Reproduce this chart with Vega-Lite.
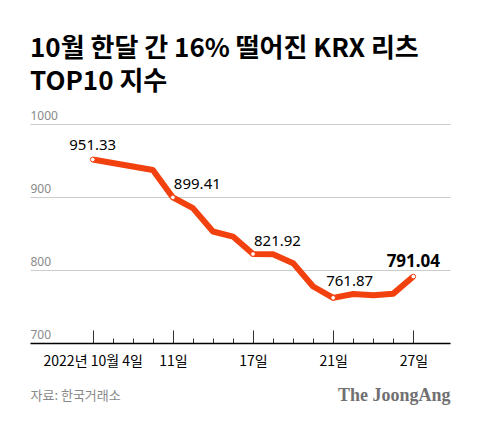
{
  "$schema": "https://vega.github.io/schema/vega-lite/v6.json",
  "autosize": "none",
  "width": 420,
  "height": 219,
  "padding": {"left": 30, "top": 124, "right": 30, "bottom": 79},
  "background": "white",
  "title": {
    "text": ["10월 한달 간 16% 떨어진 KRX 리츠", "TOP10 지수"],
    "anchor": "start",
    "frame": "group",
    "font": "Noto Sans CJK KR",
    "fontSize": 26,
    "fontWeight": "bold",
    "color": "#000000",
    "lineHeight": 33,
    "offset": 14
  },
  "data": {
    "values": [
      {"date": "2022-10-04", "session": 1, "value": 951.33, "label": "951.33"},
      {"date": "2022-10-05", "session": 2, "value": 946.5},
      {"date": "2022-10-06", "session": 3, "value": 941.8},
      {"date": "2022-10-07", "session": 4, "value": 937.0},
      {"date": "2022-10-11", "session": 5, "value": 899.41, "label": "899.41"},
      {"date": "2022-10-12", "session": 6, "value": 884.7},
      {"date": "2022-10-13", "session": 7, "value": 852.7},
      {"date": "2022-10-14", "session": 8, "value": 845.8},
      {"date": "2022-10-17", "session": 9, "value": 821.92, "label": "821.92"},
      {"date": "2022-10-18", "session": 10, "value": 821.5},
      {"date": "2022-10-19", "session": 11, "value": 809.4},
      {"date": "2022-10-20", "session": 12, "value": 777.4},
      {"date": "2022-10-21", "session": 13, "value": 761.87, "label": "761.87"},
      {"date": "2022-10-24", "session": 14, "value": 767.2},
      {"date": "2022-10-25", "session": 15, "value": 765.3},
      {"date": "2022-10-26", "session": 16, "value": 767.6},
      {"date": "2022-10-27", "session": 17, "value": 791.04, "label": "791.04"}
    ]
  },
  "encoding": {
    "x": {
      "field": "session",
      "type": "quantitative",
      "scale": {"domain": [-2.13, 18.83], "nice": false, "zero": false},
      "axis": {
        "values": [1, 2, 3, 4, 5, 6, 7, 8, 9, 10, 11, 12, 13, 14, 15, 16, 17],
        "labelExpr": "datum.value == 1 ? '2022년 10월 4일' : datum.value == 5 ? '11일' : datum.value == 9 ? '17일' : datum.value == 13 ? '21일' : datum.value == 17 ? '27일' : ''",
        "grid": false,
        "domainColor": "#000000",
        "domainWidth": 1.3,
        "tickColor": "#333333",
        "tickWidth": 1,
        "tickSize": {"condition": {"test": "datum.value % 4 == 1", "value": -13}, "value": -5},
        "labelPadding": 24,
        "labelFont": "Noto Sans CJK KR",
        "labelFontSize": 14,
        "labelColor": "#000000",
        "labelOverlap": false,
        "labelFlush": false,
        "title": "자료: 한국거래소",
        "titleX": 0,
        "titleY": 52,
        "titleAlign": "left",
        "titleAnchor": "start",
        "titleBaseline": "middle",
        "titleFont": "Noto Sans CJK KR",
        "titleFontSize": 13,
        "titleFontWeight": "normal",
        "titleColor": "#888888"
      }
    },
    "y": {
      "field": "value",
      "type": "quantitative",
      "scale": {"domain": [700, 1000], "nice": false, "zero": false},
      "axis": null
    }
  },
  "layer": [
    {
      "mark": {"type": "line", "color": "#F2410F", "strokeWidth": 6, "strokeJoin": "round", "strokeCap": "butt"},
      "encoding": {
        "y": {
          "field": "value",
          "type": "quantitative",
          "scale": {"domain": [700, 1000], "nice": false, "zero": false},
          "axis": {
            "values": [700, 800, 900, 1000],
            "format": "d",
            "grid": true,
            "gridColor": "#cccccc",
            "gridWidth": 1,
            "domain": false,
            "ticks": false,
            "tickSize": 0,
            "labelPadding": 0,
            "labelAlign": "left",
            "labelBaseline": "alphabetic",
            "labelOffset": -5,
            "labelFont": "Noto Sans",
            "labelFontSize": 12,
            "labelColor": "#8a8a8a",
            "title": null
          }
        }
      }
    },
    {
      "transform": [{"filter": "isValid(datum.label)"}],
      "mark": {"type": "point", "filled": true, "fill": "white", "stroke": "#F2410F", "strokeWidth": 1, "size": 22, "opacity": 1},
      "encoding": {
        "y": {
          "field": "value",
          "type": "quantitative",
          "axis": {
            "orient": "right",
            "labels": false,
            "ticks": false,
            "domain": false,
            "grid": false,
            "title": "The JoongAng",
            "titleAngle": 0,
            "titleX": 0,
            "titleY": 271,
            "titleAlign": "right",
            "titleBaseline": "middle",
            "titleFont": "Liberation Serif",
            "titleFontSize": 18,
            "titleFontWeight": "bold",
            "titleColor": "#707070"
          }
        }
      }
    },
    {
      "transform": [{"filter": "datum.label == '951.33'"}],
      "mark": {"type": "text", "align": "center", "dy": -15, "font": "Noto Sans", "fontSize": 15, "color": "#000000"},
      "encoding": {"text": {"field": "label"}}
    },
    {
      "transform": [{"filter": "datum.label == '899.41' || datum.label == '821.92'"}],
      "mark": {"type": "text", "align": "left", "dx": 1, "dy": -13, "font": "Noto Sans", "fontSize": 15, "color": "#000000"},
      "encoding": {"text": {"field": "label"}}
    },
    {
      "transform": [{"filter": "datum.label == '761.87'"}],
      "mark": {"type": "text", "align": "left", "dx": -7, "dy": -17, "font": "Noto Sans", "fontSize": 15, "color": "#000000"},
      "encoding": {"text": {"field": "label"}}
    },
    {
      "transform": [{"filter": "datum.label == '791.04'"}],
      "mark": {"type": "text", "align": "center", "dy": -15, "font": "Noto Sans", "fontSize": 17, "fontWeight": "bold", "color": "#000000"},
      "encoding": {"text": {"field": "label"}}
    }
  ],
  "resolve": {"axis": {"y": "independent"}},
  "config": {
    "view": {"stroke": null}
  }
}
